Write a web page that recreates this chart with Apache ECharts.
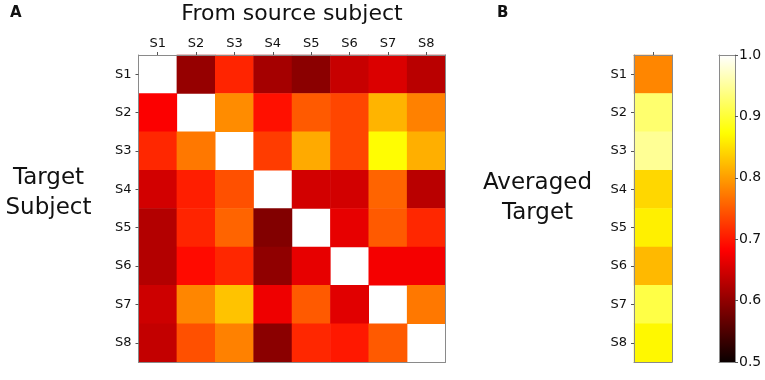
<!DOCTYPE html>
<html>
<head>
<meta charset="utf-8">
<script src="https://cdn.jsdelivr.net/npm/echarts@6/dist/echarts.min.js"></script>
<style>html,body{margin:0;padding:0;background:#fff}#c{width:765px;height:380px}</style>
</head>
<body>
<div id="c"></div>
<script>
// ---- data ----
const subjects = ['S1', 'S2', 'S3', 'S4', 'S5', 'S6', 'S7', 'S8'];
// rows = target subject, columns = source subject; diagonal empty
const transfer = [
  [null, 0.604, 0.709, 0.615, 0.596, 0.641, 0.656, 0.630],
  [0.680, null, 0.787, 0.694, 0.750, 0.735, 0.817, 0.779],
  [0.712, 0.772, null, 0.727, 0.809, 0.735, 0.873, 0.813],
  [0.649, 0.705, 0.742, null, 0.649, 0.649, 0.757, 0.630],
  [0.626, 0.709, 0.757, 0.589, null, 0.664, 0.750, 0.712],
  [0.626, 0.690, 0.712, 0.600, 0.664, null, 0.675, 0.675],
  [0.645, 0.783, 0.828, 0.671, 0.750, 0.660, null, 0.772],
  [0.638, 0.742, 0.779, 0.596, 0.712, 0.701, 0.750, null]
];
const averaged = [0.783, 0.928, 0.947, 0.843, 0.862, 0.821, 0.908, 0.868];
const colorbarTicks = [0.5, 0.6, 0.7, 0.8, 0.9, 1.0];

// ---- matplotlib "hot" colormap ----
function hot(t) {
  const r = Math.min(1, 0.0416 + (1 - 0.0416) * t / 0.365079);
  const g = Math.max(0, Math.min(1, (t - 0.365079) / (0.746032 - 0.365079)));
  const b = Math.max(0, Math.min(1, (t - 0.746032) / (1 - 0.746032)));
  return 'rgb(' + Math.round(r * 255) + ',' + Math.round(g * 255) + ',' + Math.round(b * 255) + ')';
}
const N = 100;
const hotColors = [];
for (let i = 0; i <= N; i++) hotColors.push(hot(i / N));
const gradStops = [];
for (let i = 0; i <= N; i++) gradStops.push({ offset: i / N, color: hot(1 - i / N) });

const vmin = colorbarTicks[0], vmax = colorbarTicks[colorbarTicks.length - 1];

const heatA = [];
transfer.forEach((row, r) => row.forEach((v, c) => { if (v !== null) heatA.push([c, r, v]); }));
const heatB = averaged.map((v, r) => [0, r, v]);

const font = 'DejaVu Sans, Verdana, sans-serif';
const frame = { show: true, lineStyle: { color: '#8a8a8a', width: 1 } };
const lab = { color: '#111', fontSize: 13, fontFamily: font };

const chart = echarts.init(document.getElementById('c'), null, { renderer: 'canvas' });
chart.setOption({
  animation: false,
  backgroundColor: '#fff',
  grid: [
    { left: 138.5, top: 55, width: 307, height: 307 },
    { left: 634, top: 55, width: 38, height: 307 },
    { left: 719, top: 55, width: 16, height: 307 }
  ],
  xAxis: [
    { gridIndex: 0, type: 'category', data: subjects, position: 'top', z: 5,
      axisLine: frame, axisTick: { show: true, length: 3, alignWithLabel: true, lineStyle: { color: '#555' } },
      axisLabel: Object.assign({ margin: 5 }, lab), splitLine: { show: false } },
    { gridIndex: 0, type: 'category', data: subjects, position: 'bottom', z: 5,
      axisLine: frame, axisTick: { show: false }, axisLabel: { show: false } },
    { gridIndex: 1, type: 'category', data: [''], position: 'top', z: 5,
      axisLine: frame, axisTick: { show: true, length: 3, alignWithLabel: true, lineStyle: { color: '#555' } },
      axisLabel: { show: false } },
    { gridIndex: 1, type: 'category', data: [''], position: 'bottom', z: 5,
      axisLine: frame, axisTick: { show: false }, axisLabel: { show: false } },
    { gridIndex: 2, type: 'category', data: [''], position: 'top', z: 5,
      axisLine: frame, axisTick: { show: false }, axisLabel: { show: false } },
    { gridIndex: 2, type: 'category', data: [''], position: 'bottom', z: 5,
      axisLine: frame, axisTick: { show: false }, axisLabel: { show: false } }
  ],
  yAxis: [
    { gridIndex: 0, type: 'category', data: subjects, inverse: true, position: 'left', z: 5,
      axisLine: frame, axisTick: { show: true, length: 3, alignWithLabel: true, lineStyle: { color: '#555' } },
      axisLabel: Object.assign({ margin: 7 }, lab) },
    { gridIndex: 0, type: 'category', data: subjects, inverse: true, position: 'right', z: 5,
      axisLine: frame, axisTick: { show: false }, axisLabel: { show: false } },
    { gridIndex: 1, type: 'category', data: subjects, inverse: true, position: 'left', z: 5,
      axisLine: frame, axisTick: { show: true, length: 3, alignWithLabel: true, lineStyle: { color: '#555' } },
      axisLabel: Object.assign({ margin: 7 }, lab) },
    { gridIndex: 1, type: 'category', data: subjects, inverse: true, position: 'right', z: 5,
      axisLine: frame, axisTick: { show: false }, axisLabel: { show: false } },
    { gridIndex: 2, type: 'value', min: vmin, max: vmax, interval: 0.1, position: 'right', z: 5,
      axisLine: frame, axisTick: { show: true, length: 3, lineStyle: { color: '#555' } },
      splitLine: { show: false },
      axisLabel: Object.assign({ margin: 4, formatter: v => v.toFixed(1) }, lab, { fontSize: 14 }) },
    { gridIndex: 2, type: 'value', min: vmin, max: vmax, interval: 0.1, position: 'left', z: 5,
      axisLine: frame, axisTick: { show: false }, axisLabel: { show: false }, splitLine: { show: false } }
  ],
  visualMap: {
    show: false, type: 'continuous', min: vmin, max: vmax, dimension: 2,
    seriesIndex: [0, 1], inRange: { color: hotColors }
  },
  series: [
    { type: 'heatmap', xAxisIndex: 0, yAxisIndex: 0, data: heatA, itemStyle: { borderWidth: 0 } },
    { type: 'heatmap', xAxisIndex: 2, yAxisIndex: 2, data: heatB, itemStyle: { borderWidth: 0 } },
    { type: 'custom', xAxisIndex: 4, yAxisIndex: 4, data: [[0, vmin, vmax]],
      renderItem: function (params, api) {
        const top = api.coord([0, api.value(2)]);
        const bot = api.coord([0, api.value(1)]);
        const cs = params.coordSys;
        return {
          type: 'rect',
          shape: { x: cs.x, y: top[1], width: cs.width, height: bot[1] - top[1] },
          style: { fill: new echarts.graphic.LinearGradient(0, 0, 0, 1, gradStops) }
        };
      } }
  ],
  graphic: [
    { type: 'text', x: 10, y: 13, style: { text: 'A', font: 'bold 15px ' + font, fill: '#111', textAlign: 'left', textVerticalAlign: 'middle' } },
    { type: 'text', x: 497, y: 13, style: { text: 'B', font: 'bold 15px ' + font, fill: '#111', textAlign: 'left', textVerticalAlign: 'middle' } },
    { type: 'text', x: 292, y: 14, style: { text: 'From source subject', font: '22px ' + font, fill: '#111', textAlign: 'center', textVerticalAlign: 'middle' } },
    { type: 'text', x: 48.5, y: 193, style: { text: 'Target\nSubject', font: '23px ' + font, lineHeight: 30, fill: '#111', textAlign: 'center', textVerticalAlign: 'middle' } },
    { type: 'text', x: 537.5, y: 198, style: { text: 'Averaged\nTarget', font: '23px ' + font, lineHeight: 30, fill: '#111', textAlign: 'center', textVerticalAlign: 'middle' } }
  ]
});
</script>
</body>
</html>
